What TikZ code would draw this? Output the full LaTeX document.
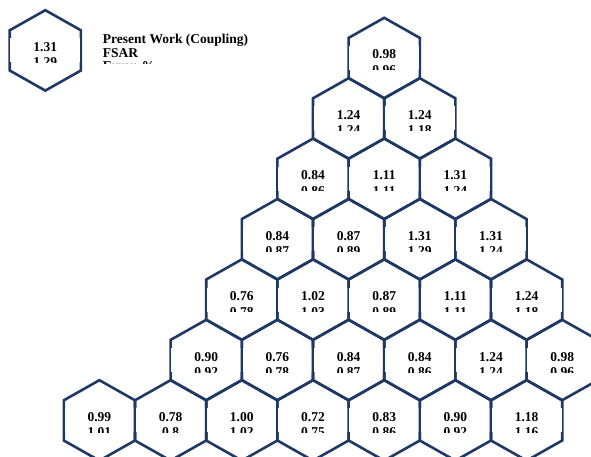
\documentclass[tikz,border=0pt]{standalone}
\usepackage{fontspec}
\setmainfont{Liberation Serif}
\usepackage{xcolor}
\definecolor{hexblue}{HTML}{1F3864}

\begin{document}
\begin{tikzpicture}[
  x=1pt, y=-1pt,
  hexline/.style={draw=hexblue, line width=2.6pt, line join=miter},
  valtext/.style={font=\fontsize{13.5}{15}\selectfont\bfseries,
                  inner sep=0pt, anchor=base},
  legtext/.style={font=\fontsize{13.5}{14}\selectfont\bfseries,
                  inner sep=0pt, anchor=base west},
  pics/hexcell/.style 2 args={code={
    \draw[hexline] (0,-40.2) -- (35.6,-20.1) -- (35.6,20.1) -- (0,40.2)
                   -- (-35.6,20.1) -- (-35.6,-20.1) -- cycle;
    \fill[white] (-34.9,-12) rectangle (34.9,12);
    \begin{scope}
      \clip (-34.9,-12) rectangle (34.9,12);
      \node (-val)  [valtext] at (0,1)    {#1};
      \node (-fsar) [valtext] at (0,16.5) {#2};
    \end{scope}
  }}
]
  \useasboundingbox (0,0) rectangle (591,457);

  % legend
  \pic (key) at (45.3,50.4) {hexcell={1.31}{1.29}};
  \node (lpw)   [legtext] at (102.7,44)   {Present Work (Coupling)};
  \node (lfsar) [legtext] at (102.7,57.3) {FSAR};
  \begin{scope}
    \clip (95,30) rectangle (300,63.4);
    \node (lerr) [legtext] at (102.7,70.6) {Error, \%};
  \end{scope}

  % core map, row by row
  \foreach \r/\xs/\cells in {
    0/384.2/{0.98/0.96},
    1/348.6/{1.24/1.24, 1.24/1.18},
    2/313.0/{0.84/0.86, 1.11/1.11, 1.31/1.24},
    3/277.4/{0.84/0.87, 0.87/0.89, 1.31/1.29, 1.31/1.24},
    4/241.8/{0.76/0.78, 1.02/1.03, 0.87/0.89, 1.11/1.11, 1.24/1.18},
    5/206.2/{0.90/0.92, 0.76/0.78, 0.84/0.87, 0.84/0.86, 1.24/1.24, 0.98/0.96},
    6/99.4/{0.99/1.01, 0.78/0.8, 1.00/1.02, 0.72/0.75, 0.83/0.86, 0.90/0.92, 1.18/1.16}}{
    \foreach \v/\f [count=\j from 0] in \cells {
      \pgfmathsetmacro\cx{\xs+71.2*\j}
      \pgfmathsetmacro\cy{58+60.4*\r}
      \pic (c\r-\j) at (\cx,\cy) {hexcell={\v}{\f}};
    }
  }
\end{tikzpicture}
\end{document}
